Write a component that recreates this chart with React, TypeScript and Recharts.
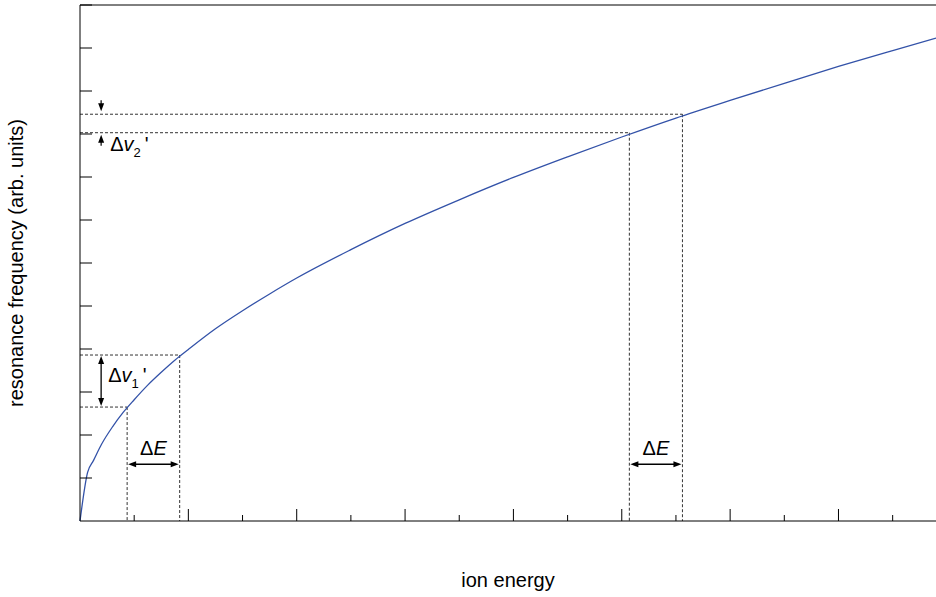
import React from 'react';
import { LineChart, Line, XAxis, YAxis, ReferenceLine } from 'recharts';

// curve (ion energy in minor-tick units, frequency in y-tick units)
const energy = [0, 0.14, 0.25, 0.4, 0.6, 0.8, 1, 1.25, 1.5, 1.75, 2, 2.5, 3, 3.5, 4, 5, 6, 7, 8, 9, 10, 11, 12, 13, 14, 15, 15.8];
const frequency = [0, 1.13, 1.41, 1.79, 2.19, 2.53, 2.82, 3.16, 3.46, 3.74, 3.99, 4.47, 4.89, 5.28, 5.65, 6.31, 6.92, 7.47, 7.99, 8.47, 8.93, 9.37, 9.78, 10.18, 10.57, 10.94, 11.23];

// the four marked points on the curve
const markEnergy = [0.87, 1.84, 10.14, 11.12];
const markFreq = [2.65, 3.86, 9.03, 9.46];

// where the arrows sit
const arrowEnergy = 0.39;
const arrowFreq = 1.32;

const energyTicks = [0, 1, 2, 3, 4, 5, 6, 7, 8, 9, 10, 11, 12, 13, 14, 15];
const freqTicks = [0, 1, 2, 3, 4, 5, 6, 7, 8, 9, 10, 11, 12];

const data = energy.map((e, i) => ({ e, f: frequency[i] }));

const FONT = '"Liberation Sans", Arial, sans-serif';
const DASH = { stroke: '#333', strokeWidth: 1, strokeDasharray: '3 2' };

const Head = ({ x, y, dir }: { x: number; y: number; dir: string }) => {
  const L = 8, W = 3;
  let pts = '';
  if (dir === 'left') pts = `${x},${y} ${x + L},${y - W} ${x + L},${y + W}`;
  if (dir === 'right') pts = `${x},${y} ${x - L},${y - W} ${x - L},${y + W}`;
  if (dir === 'up') pts = `${x},${y} ${x - W},${y + L} ${x + W},${y + L}`;
  if (dir === 'down') pts = `${x},${y} ${x - W},${y - L} ${x + W},${y - L}`;
  return <polygon points={pts} fill="#000" />;
};

const XTick = (props: any) => {
  const { x, y, payload } = props;
  if (payload.value === 0) return <g />;
  const len = payload.value % 2 === 0 ? 12 : 6;
  return <line x1={x} x2={x} y1={y} y2={y - len} stroke="#000" strokeWidth={1} />;
};

const YTick = (props: any) => {
  const { x, y, payload } = props;
  if (payload.value === 0) return <g />;
  return <line x1={x} x2={x + 12} y1={y} y2={y} stroke="#000" strokeWidth={1} />;
};

const dEShape = (p: any) => {
  const y = p.y1;
  return (
    <g>
      <line x1={p.x1 + 4} x2={p.x2 - 4} y1={y} y2={y} stroke="#000" strokeWidth={1.3} />
      <Head x={p.x1 + 1} y={y} dir="left" />
      <Head x={p.x2 - 1} y={y} dir="right" />
      <text x={(p.x1 + p.x2) / 2} y={y - 9} textAnchor="middle" fontSize={20} fontFamily={FONT} fill="#000">
        Δ<tspan fontStyle="italic">E</tspan>
      </text>
    </g>
  );
};

const dv1Shape = (p: any) => {
  const top = Math.min(p.y1, p.y2);
  const bot = Math.max(p.y1, p.y2);
  return (
    <g>
      <line x1={p.x1} x2={p.x1} y1={top + 4} y2={bot - 4} stroke="#000" strokeWidth={1.3} />
      <Head x={p.x1} y={top + 1} dir="up" />
      <Head x={p.x1} y={bot - 1} dir="down" />
      <text x={p.x1 + 7} y={(top + bot) / 2 + 1} fontSize={20} fontFamily={FONT} fill="#000">
        Δ<tspan fontStyle="italic">v</tspan>
        <tspan fontSize={13} dy={6}>1</tspan>
        <tspan dx={4} dy={-6}>'</tspan>
      </text>
    </g>
  );
};

const dv2Shape = (p: any) => {
  const top = Math.min(p.y1, p.y2);
  const bot = Math.max(p.y1, p.y2);
  return (
    <g>
      <line x1={p.x1} x2={p.x1} y1={top - 14} y2={top - 8} stroke="#000" strokeWidth={1.2} />
      <Head x={p.x1} y={top - 3} dir="down" />
      <line x1={p.x1} x2={p.x1} y1={bot + 7} y2={bot + 13} stroke="#000" strokeWidth={1.2} />
      <Head x={p.x1} y={bot + 2} dir="up" />
      <text x={p.x1 + 9} y={bot + 18} fontSize={20} fontFamily={FONT} fill="#000">
        Δ<tspan fontStyle="italic">v</tspan>
        <tspan fontSize={13} dy={6}>2</tspan>
        <tspan dx={4} dy={-6}>'</tspan>
      </text>
    </g>
  );
};

export default function App() {
  return (
    <div style={{ position: 'absolute', left: 0, top: 0, width: 936, height: 597, background: '#fff', overflow: 'hidden' }}>
      <LineChart width={936} height={597} data={data} margin={{ top: 5, right: 0, bottom: 0, left: 0 }}>
        <XAxis
          dataKey="e"
          type="number"
          domain={[0, 15.8]}
          ticks={energyTicks}
          interval={0}
          height={76}
          tickSize={0}
          tickMargin={0}
          tick={<XTick />}
          axisLine={{ stroke: '#000', strokeWidth: 1 }}
          label={{
            content: (lp: any) => {
              const vb = lp.viewBox;
              return (
                <text x={vb.x + vb.width / 2} y={vb.y + 66} textAnchor="middle" fontSize={20} fontFamily={FONT} fill="#000">
                  ion energy
                </text>
              );
            },
          }}
        />
        <YAxis
          type="number"
          domain={[0, 12]}
          ticks={freqTicks}
          interval={0}
          width={80}
          tickSize={0}
          tickMargin={0}
          tick={<YTick />}
          axisLine={{ stroke: '#000', strokeWidth: 1 }}
          label={{
            content: (lp: any) => {
              const vb = lp.viewBox;
              const cx = vb.x + 23;
              const cy = vb.y + vb.height / 2;
              return (
                <text x={cx} y={cy} transform={`rotate(-90 ${cx} ${cy})`} textAnchor="middle" fontSize={20} fontFamily={FONT} fill="#000">
                  resonance frequency (arb. units)
                </text>
              );
            },
          }}
        />
        <ReferenceLine y={12} stroke="#000" strokeWidth={1} />
        {markEnergy.map((e, i) => (
          <ReferenceLine key={'h' + i} segment={[{ x: 0, y: markFreq[i] }, { x: e, y: markFreq[i] }]} {...DASH} />
        ))}
        {markEnergy.map((e, i) => (
          <ReferenceLine key={'v' + i} segment={[{ x: e, y: markFreq[i] }, { x: e, y: 0 }]} {...DASH} />
        ))}
        <ReferenceLine segment={[{ x: markEnergy[0], y: arrowFreq }, { x: markEnergy[1], y: arrowFreq }]} shape={dEShape} />
        <ReferenceLine segment={[{ x: markEnergy[2], y: arrowFreq }, { x: markEnergy[3], y: arrowFreq }]} shape={dEShape} />
        <ReferenceLine segment={[{ x: arrowEnergy, y: markFreq[1] }, { x: arrowEnergy, y: markFreq[0] }]} shape={dv1Shape} />
        <ReferenceLine segment={[{ x: arrowEnergy, y: markFreq[3] }, { x: arrowEnergy, y: markFreq[2] }]} shape={dv2Shape} />
        <Line type="monotone" dataKey="f" stroke="#3352a8" strokeWidth={1.3} dot={false} isAnimationActive={false} />
      </LineChart>
    </div>
  );
}
